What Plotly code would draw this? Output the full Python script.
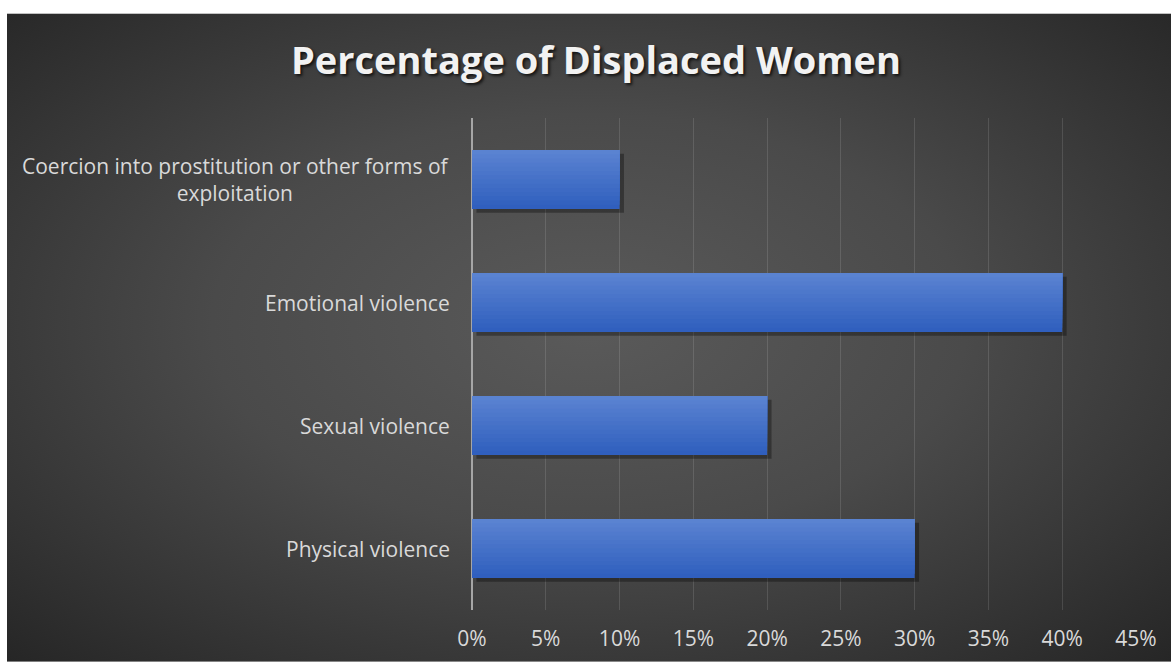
import base64
import plotly.graph_objects as go

# ---- data ----
categories = ["Physical violence", "Sexual violence", "Emotional violence",
              "Coercion into prostitution or other forms of<br>exploitation"]
values = [0.30, 0.20, 0.40, 0.10]
tick_vals = [0, 0.05, 0.10, 0.15, 0.20, 0.25, 0.30, 0.35, 0.40, 0.45]
tick_text = ["0%", "5%", "10%", "15%", "20%", "25%", "30%", "35%", "40%", "45%"]
title_text = "Percentage of Displaced Women"

W, H = 1171, 664
ML, MR, MT, MB = 472, 35, 118, 52
PW, PH = W - ML - MR, H - MT - MB

# radial gradient background (chart area starts at x=7, y=13)
svg = (
    '<svg xmlns="http://www.w3.org/2000/svg" width="1164" height="651" '
    'preserveAspectRatio="none" viewBox="0 0 1164 651">'
    '<defs><radialGradient id="g" cx="0.5" cy="0.48" r="0.72">'
    '<stop offset="0" stop-color="#5a5a5a"/>'
    '<stop offset="0.45" stop-color="#4a4a4a"/>'
    '<stop offset="1" stop-color="#262626"/>'
    '</radialGradient></defs>'
    '<rect width="1164" height="651" fill="url(#g)"/></svg>'
)
src = "data:image/svg+xml;base64," + base64.b64encode(svg.encode()).decode()

fig = go.Figure()
BW = 0.48
# soft shadow
fig.add_trace(go.Bar(
    y=categories, x=values, orientation="h", base=0.003, width=BW,
    offset=-BW / 2 - 0.03, marker=dict(color="rgba(0,0,0,0.33)", line=dict(width=0)),
    hoverinfo="skip", showlegend=False,
))

# bar with vertical gradient (bottom dark -> top light); each layer reaches the bar top
top_rgb = (0x5c, 0x84, 0xd2)
bot_rgb = (0x2e, 0x5e, 0xbd)
N = 14
for i in range(N):
    t = (i + 0.5) / N
    col = tuple(round(bot_rgb[k] + (top_rgb[k] - bot_rgb[k]) * t) for k in range(3))
    fig.add_trace(go.Bar(
        y=categories, x=values, orientation="h", width=BW - i * BW / N,
        offset=-BW / 2 + i * BW / N,
        marker=dict(color="rgb(%d,%d,%d)" % col, line=dict(width=0)),
        hoverinfo="skip" if i else None, showlegend=False,
    ))

label_font = dict(family="Open Sans, sans-serif", size=21, color="#d9d9d9")
for c in categories:
    fig.add_annotation(
        x=0, xref="paper", y=c, yref="y", text=c, showarrow=False,
        xanchor="right", align="center", xshift=-20, font=label_font,
    )

fig.update_layout(
    width=W, height=H,
    margin=dict(l=ML, r=MR, t=MT, b=MB, pad=0),
    paper_bgcolor="white", plot_bgcolor="rgba(0,0,0,0)",
    barmode="overlay",
    title=dict(
        text=title_text, x=596 / W, xref="container", xanchor="center",
        y=1 - 61 / H, yref="container", yanchor="middle",
        font=dict(family="Open Sans, sans-serif", size=38, color="#f2f2f2",
                  weight="bold", shadow="2px 2px 3px rgba(0,0,0,0.7)"),
    ),
    xaxis=dict(
        range=[0, 0.45], tickvals=tick_vals, ticktext=tick_text,
        showgrid=True, gridcolor="rgba(255,255,255,0.12)", gridwidth=1,
        zeroline=True, zerolinecolor="#a6a6a6", zerolinewidth=2,
        showline=False, ticks="", tickfont=label_font, ticklabelstandoff=14,
        fixedrange=True,
    ),
    yaxis=dict(
        showticklabels=False, showgrid=False, zeroline=False, showline=False,
        ticks="", range=[-0.5, 3.5], fixedrange=True,
    ),
    images=[dict(
        source=src, xref="paper", yref="paper",
        x=(7 - ML) / PW, y=(H - MB - 13) / PH,
        sizex=(W - 7) / PW, sizey=(H - 13) / PH,
        xanchor="left", yanchor="top", sizing="stretch", layer="below",
    )],
)

fig.write_html("out.html")
